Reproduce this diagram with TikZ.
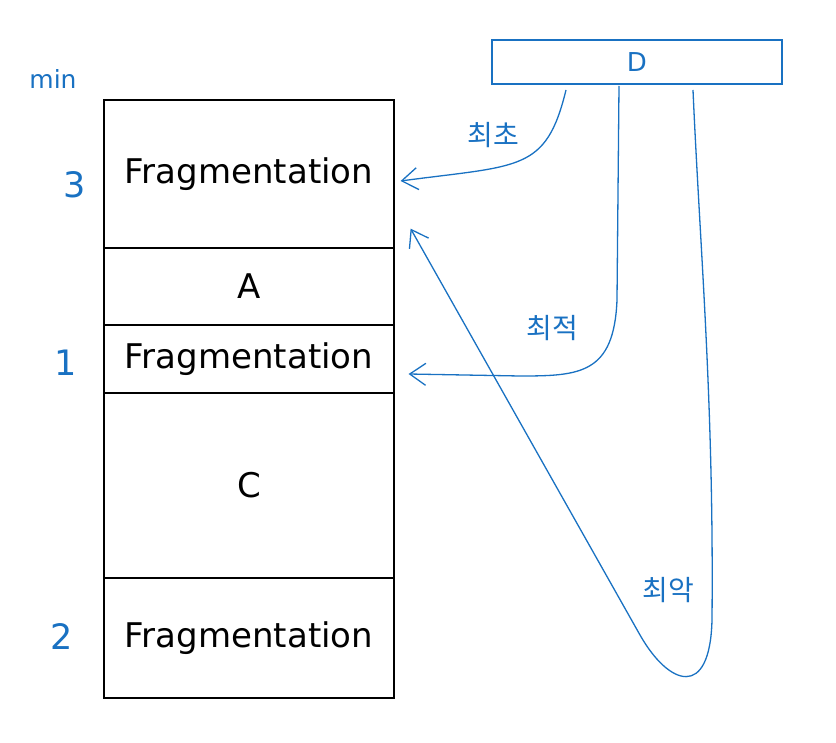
\documentclass[tikz,border=0pt]{standalone}
\usepackage{fontspec}
\setmainfont{DejaVu Sans}
\newfontfamily\kor{Noto Sans CJK KR}
\usetikzlibrary{arrows.meta}
\definecolor{skblue}{RGB}{25,113,194}
\tikzset{
  cell/.style={draw=black, line width=1.2pt, minimum width=290pt, inner sep=0pt, font=\fontsize{34}{36}\selectfont},
  dbox/.style={draw=skblue, line width=1.4pt, minimum width=290pt, minimum height=44pt, inner sep=0pt, text=skblue, font=\fontsize{26}{28}\selectfont},
  num/.style={text=skblue, font=\fontsize{35}{36}\selectfont},
  klabel/.style={text=skblue, font=\kor\fontsize{28}{30}\selectfont},
  arr/.style={draw=skblue, line width=1.3pt, -{Straight Barb[length=16pt, width=22pt, line width=1.3pt]}},
}
\begin{document}
\begin{tikzpicture}[x=1pt, y=-1pt]
\useasboundingbox (0,0) rectangle (836,743);
% left column
\node[cell, minimum height=148pt] (r1) at (249,174) {Fragmentation};
\node[cell, minimum height=77pt] (r2) at (249,286.5) {A};
\node[cell, minimum height=68pt] (r3) at (249,359) {Fragmentation};
\node[cell, minimum height=185pt] (r4) at (249,485.5) {C};
\node[cell, minimum height=120pt] (r5) at (249,638) {Fragmentation};
% side labels
\node[text=skblue, font=\fontsize{25}{26}\selectfont] (lmin) at (53,79) {min};
\node[num] (l3) at (75,185) {3};
\node[num] (l1) at (66,363) {1};
\node[num] (l2) at (62,637) {2};
% D box
\node[dbox] (D) at (637,62) {D};
\coordinate (s1) at (566,90);
\coordinate (s2) at (619,86);
\coordinate (s3) at (693,90);
% arrows
\draw[arr] (s1) .. controls (546,172) and (520,165) .. ([xshift=6pt,yshift=-7pt]r1.east);
\draw[arr] (s2) -- (617,300) .. controls (614,374) and (580,376) .. (520,376) -- ([xshift=14pt,yshift=-15pt]r3.east);
\draw[arr] (s3) .. controls (700,250) and (714,400) .. (712,620) .. controls (710,700) and (669,686) .. (640,635) -- ([xshift=16pt,yshift=20pt]r1.south east);
% arrow labels
\node[klabel] (k1) at (493,135) {최초};
\node[klabel] (k2) at (552,328) {최적};
\node[klabel] (k3) at (668,590) {최악};
\end{tikzpicture}
\end{document}
